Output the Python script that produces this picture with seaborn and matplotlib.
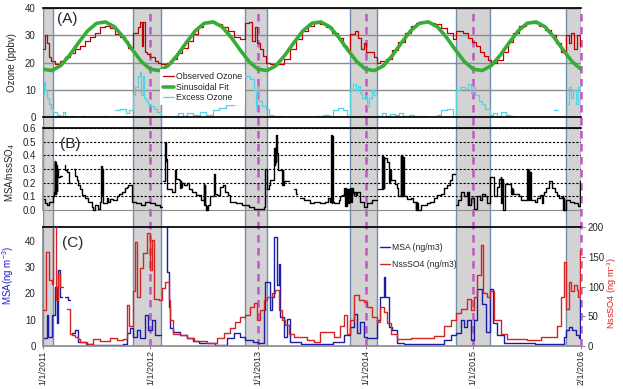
import numpy as np
import matplotlib
matplotlib.use('Agg')
import matplotlib.pyplot as plt
import seaborn as sns

nan = np.nan

# x axis: years since 1/1/2011
tick_years = [0, 1, 2, 3, 4, 5]
tick_labels = ['1/1/2011', '1/1/2012', '1/1/2013', '1/1/2014', '1/1/2015', '2/1/2016']
winter_bands = [(0.0, 0.099), (0.837, 1.103), (1.882, 2.084),
                (2.852, 3.103), (3.838, 4.154), (4.865, 5.0)]
new_years = [1, 2, 3, 4, 5]

# (A) ozone, ppbv  -- (time, value) step points
ozone_obs = [(0.000, 25), (0.017, 30), (0.040, 27), (0.059, 22), (0.077, 20.5), (0.114, 19.5),
             (0.161, 20.5), (0.207, 22), (0.254, 23.5), (0.300, 25), (0.347, 26), (0.393, 28),
             (0.440, 29.5), (0.487, 31), (0.533, 33), (0.580, 33.5), (0.626, 32.5), (0.673, 30.5),
             (0.720, 29.5), (0.766, 28), (0.794, 25.5), (0.837, 31), (0.886, 33), (0.905, 35),
             (0.924, 26), (0.933, 35), (0.952, 24), (0.970, 23), (1.000, 22), (1.045, 20.5),
             (1.073, 20), (1.103, 19.5), (1.156, 20), (1.203, 21.5), (1.249, 23.5), (1.296, 25.5),
             (1.352, 28), (1.398, 30.5), (1.445, 33), (1.491, 34.5), (1.557, 35), (1.613, 34),
             (1.668, 33), (1.724, 31.5), (1.780, 29.5), (1.835, 28.5), (1.882, 34.5), (1.919, 35),
             (1.947, 28), (1.975, 33), (1.994, 27), (2.021, 25), (2.049, 22.5), (2.077, 20),
             (2.114, 19.5), (2.189, 19.5), (2.245, 21.5), (2.300, 25), (2.356, 28.5), (2.412, 31.5),
             (2.468, 33.5), (2.524, 34.5), (2.579, 34), (2.635, 33), (2.691, 31), (2.747, 29),
             (2.793, 26), (2.830, 24.5), (2.852, 30.5), (2.905, 31.5), (2.933, 29), (2.961, 25),
             (2.989, 27), (3.007, 24), (3.045, 24), (3.082, 22), (3.103, 20), (3.138, 20.5),
             (3.193, 21.5), (3.249, 24.5), (3.305, 27.5), (3.361, 31), (3.417, 33.5), (3.472, 34.5),
             (3.528, 35), (3.584, 34.5), (3.640, 34), (3.696, 32.5), (3.752, 31), (3.808, 28.5),
             (3.838, 31.5), (3.900, 31), (3.947, 29), (3.984, 27.5), (4.021, 26), (4.058, 24),
             (4.096, 22.5), (4.133, 21), (4.161, 20), (4.217, 21), (4.273, 24), (4.319, 27.5),
             (4.365, 31), (4.421, 33.5), (4.486, 35), (4.552, 34.5), (4.607, 33.5), (4.663, 32),
             (4.719, 30), (4.766, 27), (4.812, 24), (4.865, 30), (4.887, 27), (4.905, 31),
             (4.933, 25), (4.961, 30), (4.989, 26), (5.0, 26)]

fit_months = np.arange(61) / 12
fit_ozone = [17.6, 17.1, 18.9, 22.7, 27.3, 31.6, 34.4, 34.9, 33.1, 29.3, 24.7, 20.4,
             17.6, 17.1, 18.9, 22.7, 27.3, 31.6, 34.4, 34.9, 33.1, 29.3, 24.7, 20.4,
             17.6, 17.1, 18.9, 22.7, 27.3, 31.6, 34.4, 34.9, 33.1, 29.3, 24.7, 20.4,
             17.6, 17.1, 18.9, 22.7, 27.3, 31.6, 34.4, 34.9, 33.1, 29.3, 24.7, 20.4,
             17.6, 17.1, 18.9, 22.7, 27.3, 31.6, 34.4, 34.9, 33.1, 29.3, 24.7, 20.4,
             17.6]

ozone_excess = [(0.000, 8), (0.010, 13), (0.025, 10), (0.040, 7), (0.055, 5), (0.075, 3), (0.099, 2),
                (0.13, 1), (0.16, 0.5), (0.19, 2), (0.21, 0.5), (0.25, 0.5), (0.30, 0), (0.36, 0.5),
                (0.40, nan), (0.56, 0.3), (0.62, nan), (0.67, 2.5), (0.72, 3), (0.77, 1.5), (0.80, 2.5),
                (0.837, 8), (0.86, 11), (0.89, 15), (0.905, 16.5), (0.915, 8), (0.93, 15), (0.945, 7),
                (0.96, 6), (0.98, 5), (1.00, 4), (1.03, 3), (1.06, 2), (1.10, 0.5), (1.15, 0),
                (1.20, nan), (1.22, 0.5), (1.26, 1.5), (1.30, 0.5), (1.34, 1.5), (1.40, 1), (1.46, 2),
                (1.52, 1), (1.58, 2.5), (1.64, 3.5), (1.70, 4.5), (1.78, 5), (1.84, nan), (1.882, 15),
                (1.93, 14), (1.96, 10), (1.98, 3), (1.99, 11), (2.01, 6), (2.04, 4), (2.07, 3),
                (2.10, 1), (2.14, 0.5), (2.22, nan), (2.52, 0.3), (2.60, 1), (2.66, 0.5), (2.70, 2.5),
                (2.74, 3.3), (2.79, 2.5), (2.83, 0.5), (2.852, 10), (2.88, 12), (2.91, 10), (2.93, 11.5),
                (2.95, 9), (2.97, 7), (3.00, 8), (3.01, 4), (3.03, 7), (3.06, 10), (3.08, 8),
                (3.103, 0.5), (3.15, 1.5), (3.19, 0.5), (3.23, 1.2), (3.27, 0.8), (3.31, 1.5),
                (3.35, 0.5), (3.40, 0.8), (3.45, 0.3), (3.57, nan), (3.66, 1), (3.70, 2.5), (3.76, 3),
                (3.81, 0.5), (3.838, 10), (3.88, 11), (3.92, 10.5), (3.95, 12), (3.98, 9), (4.00, 11),
                (4.02, 8), (4.05, 6), (4.08, 5), (4.11, 3), (4.154, 1), (4.18, 1.5), (4.22, 0.5),
                (4.26, 1.8), (4.30, 1), (4.34, 0.5), (4.38, nan), (4.75, 2.5), (4.79, nan), (4.865, 5),
                (4.89, 11), (4.91, 7), (4.93, 10), (4.95, 5), (4.97, 11), (4.99, 12), (5.0, 12)]

# (B) MSA / nssSO4 ratio
msa_ratio = [(0.000, 0.08), (0.020, 0.05), (0.037, 0.04), (0.060, 0.06), (0.093, 0.10), (0.105, 0.13),
             (0.110, 0.36), (0.113, 0.12), (0.117, 0.35), (0.121, 0.12), (0.125, 0.33), (0.129, 0.14),
             (0.133, 0.30), (0.140, 0.24), (0.160, 0.25), (0.177, nan), (0.208, 0.33), (0.212, 0.29),
             (0.223, 0.28), (0.240, 0.20), (0.254, nan), (0.290, 0.30), (0.301, 0.25), (0.315, 0.22),
             (0.332, 0.18), (0.350, 0.15), (0.363, 0.11), (0.395, 0.09), (0.425, 0.06), (0.456, 0.02),
             (0.470, 0.00), (0.487, 0.04), (0.510, 0.01), (0.533, 0.06), (0.545, 0.32), (0.549, 0.10),
             (0.553, 0.30), (0.557, 0.08), (0.564, 0.05), (0.595, 0.085), (0.610, 0.06), (0.626, 0.08),
             (0.650, 0.07), (0.688, 0.10), (0.710, 0.12), (0.735, 0.13), (0.766, 0.16), (0.780, 0.17),
             (0.797, 0.18), (0.828, 0.06), (0.870, 0.05), (0.910, 0.04), (0.950, 0.06), (0.998, 0.05),
             (1.040, 0.04), (1.091, 0.02), (1.107, nan), (1.115, 0.21), (1.138, 0.50), (1.142, 0.36),
             (1.146, 0.50), (1.150, 0.37), (1.153, 0.15), (1.200, 0.13), (1.231, 0.29), (1.240, 0.23),
             (1.262, 0.22), (1.275, 0.16), (1.283, 0.21), (1.288, 0.17), (1.293, 0.20), (1.310, 0.18),
             (1.340, 0.20), (1.360, 0.15), (1.386, 0.13), (1.420, 0.11), (1.448, 0.11), (1.470, 0.07),
             (1.495, 0.19), (1.500, 0.04), (1.505, 0.18), (1.510, 0.04), (1.517, 0.00), (1.522, 0.03),
             (1.526, 0.00), (1.540, 0.04), (1.557, 0.10), (1.588, 0.26), (1.603, 0.12), (1.619, 0.11),
             (1.650, 0.17), (1.672, 0.18), (1.696, 0.13), (1.720, 0.11), (1.743, 0.06), (1.800, 0.05),
             (1.850, 0.04), (1.882, 0.035), (1.920, 0.02), (1.960, 0.01), (2.000, 0.01), (2.053, 0.02),
             (2.068, 0.30), (2.084, 0.15), (2.100, 0.18), (2.115, 0.22), (2.146, 0.32), (2.150, 0.45),
             (2.155, 0.33), (2.160, 0.45), (2.165, 0.35), (2.171, 0.55), (2.176, 0.42), (2.183, 0.29),
             (2.223, 0.29), (2.227, 0.18), (2.231, 0.29), (2.235, 0.18), (2.239, 0.21), (2.290, nan),
             (2.332, 0.15), (2.350, 0.12), (2.363, nan), (2.394, 0.085), (2.430, 0.07), (2.487, 0.05),
             (2.518, 0.06), (2.580, 0.05), (2.626, 0.06), (2.650, 0.085), (2.673, 0.06), (2.682, 0.55),
             (2.687, 0.05), (2.692, 0.54), (2.697, 0.06), (2.704, 0.05), (2.750, 0.07), (2.766, 0.10),
             (2.781, 0.11), (2.800, 0.16), (2.812, 0.03), (2.817, 0.16), (2.822, 0.03), (2.828, 0.15),
             (2.840, 0.05), (2.845, 0.15), (2.852, 0.06), (2.859, 0.16), (2.865, 0.06), (2.870, 0.16),
             (2.880, 0.13), (2.890, 0.11), (2.895, 0.13), (2.910, 0.11), (2.920, 0.13), (2.952, 0.06),
             (2.983, 0.02), (3.014, 0.05), (3.060, 0.07), (3.104, nan), (3.113, 0.15), (3.153, 0.40),
             (3.158, 0.15), (3.163, 0.39), (3.168, 0.16), (3.173, 0.38), (3.200, 0.35), (3.215, 0.29),
             (3.220, 0.20), (3.225, 0.29), (3.237, 0.22), (3.277, 0.19), (3.290, 0.16), (3.299, 0.10),
             (3.324, 0.40), (3.329, 0.10), (3.334, 0.40), (3.340, 0.10), (3.345, 0.39), (3.355, 0.10),
             (3.380, 0.08), (3.417, 0.085), (3.440, 0.06), (3.464, 0.00), (3.470, 0.06), (3.475, 0.00),
             (3.480, 0.05), (3.490, 0.00), (3.510, 0.036), (3.572, 0.05), (3.600, 0.06), (3.634, 0.085),
             (3.665, 0.11), (3.696, 0.12), (3.730, 0.16), (3.758, 0.18), (3.780, 0.22), (3.804, 0.26),
             (3.829, nan), (3.840, 0.04), (3.860, 0.07), (3.882, 0.13), (3.913, 0.10), (3.944, 0.13),
             (3.950, 0.04), (3.955, 0.13), (3.960, 0.04), (3.975, 0.085), (4.006, 0.01), (4.037, 0.10),
             (4.060, 0.07), (4.084, 0.12), (4.110, 0.10), (4.130, 0.05), (4.155, 0.24), (4.192, 0.10),
             (4.223, 0.17), (4.240, 0.23), (4.254, 0.24), (4.260, 0.05), (4.266, 0.23), (4.272, 0.03),
             (4.280, 0.00), (4.294, 0.19), (4.330, 0.19), (4.347, 0.16), (4.352, 0.12), (4.357, 0.16),
             (4.362, 0.12), (4.367, 0.15), (4.372, 0.12), (4.420, 0.10), (4.440, 0.07), (4.500, 0.30),
             (4.506, 0.07), (4.512, 0.29), (4.518, 0.07), (4.524, 0.28), (4.533, 0.07), (4.570, 0.06),
             (4.595, 0.085), (4.620, 0.11), (4.642, 0.05), (4.650, 0.11), (4.657, 0.13), (4.680, 0.16),
             (4.704, 0.21), (4.735, 0.16), (4.760, 0.13), (4.781, 0.11), (4.800, 0.085), (4.828, 0.10),
             (4.834, 0.00), (4.840, 0.09), (4.846, 0.00), (4.859, 0.07), (4.900, 0.06), (4.936, 0.05),
             (4.970, 0.03), (4.995, 0.21), (5.0, 0.21)]

# (C) MSA (ng m-3, left axis) and nssSO4 (ng m-3, right axis)
msa = [(0.000, 2.9), (0.037, 11.7), (0.053, 3.5), (0.084, 11.7), (0.115, 22.4), (0.130, 8.6),
       (0.146, 28.7), (0.161, 18.6), (0.177, nan), (0.208, 18.6), (0.239, 17.4), (0.254, nan),
       (0.270, 4.8), (0.301, 6), (0.332, 1.6), (0.40, 0.8), (0.47, 0.5), (0.60, 0.4), (0.75, 0.8),
       (0.78, 5), (0.81, 7), (0.837, 3.5), (0.874, 6), (0.905, 2.9), (0.951, 11.7), (0.982, 6),
       (1.014, 9.8), (1.045, 4.2), (1.10, nan), (1.122, 46), (1.153, 28), (1.169, 14.8), (1.184, 6.7),
       (1.215, 5.4), (1.28, 4.2), (1.34, 3), (1.40, 2), (1.45, 1), (1.60, 0.4), (1.71, 2.9), (1.78, 4.8),
       (1.83, 3.5), (1.882, 2.3), (1.95, 1.5), (2.00, 1), (2.053, 13.6), (2.068, 24.3), (2.115, 13.6),
       (2.130, 18.6), (2.152, 41.3), (2.177, 23), (2.192, 31), (2.208, 11), (2.239, 3.5), (2.270, 10.4),
       (2.301, 1.6), (2.40, 0.8), (2.70, 1.6), (2.797, 4.2), (2.853, 7.3), (2.890, 12.3), (2.921, 4.8),
       (2.952, 9.2), (2.983, 3.5), (3.014, 3.1), (3.107, 9.8), (3.138, 18.6), (3.169, 26.2),
       (3.184, 18.6), (3.215, 7.3), (3.246, 6), (3.293, 1), (3.355, 0.8), (3.727, 2.3), (3.789, 4.2),
       (3.838, 4.8), (3.882, 9.8), (3.913, 7.3), (3.944, 9.8), (3.975, 2.3), (4.006, 9.8),
       (4.037, 21.8), (4.084, 16), (4.115, 5.4), (4.155, 21.8), (4.186, 8.6), (4.223, 4.2), (4.285, 1),
       (4.57, 0.8), (4.843, 3.5), (4.865, 6), (4.89, 7.3), (4.92, 6), (4.95, 4.2), (4.98, 2.9),
       (4.99, 18), (5.0, 18)]

nss_so4 = [(0.000, 60), (0.031, 159), (0.062, 111), (0.084, 105), (0.099, 210), (0.124, 77),
           (0.146, 122), (0.161, 100), (0.192, nan), (0.223, 63), (0.254, 21), (0.270, 18), (0.301, 16),
           (0.332, 11), (0.347, 7), (0.409, 4), (0.471, 12), (0.533, 8), (0.626, 14), (0.688, 10),
           (0.750, 12), (0.781, 69), (0.806, 33), (0.837, 92), (0.859, 176), (0.874, 83), (0.905, 131),
           (0.936, 156), (0.967, 190), (0.998, 128), (1.014, 179), (1.036, 80), (1.076, 77), (1.104, 97),
           (1.138, 108), (1.169, 77), (1.184, 44), (1.215, 21), (1.278, 18), (1.340, 13), (1.402, 8),
           (1.526, 5), (1.619, 13), (1.681, 22), (1.743, 30), (1.789, 40), (1.836, 49), (1.882, 52),
           (1.929, 65), (1.960, 72), (1.991, 44), (2.022, 61), (2.053, 77), (2.084, 83), (2.130, 90),
           (2.161, 94), (2.192, 61), (2.223, 44), (2.254, 35), (2.285, 21), (2.332, 16), (2.456, 10),
           (2.520, 7), (2.580, 24), (2.704, 16), (2.766, 33), (2.797, 52), (2.828, 21), (2.853, 44),
           (2.890, 86), (2.937, 77), (2.983, 75), (3.014, 66), (3.060, 49), (3.104, 41), (3.138, 66),
           (3.169, 58), (3.200, 38), (3.231, 21), (3.293, 11), (3.417, 13), (3.634, 17), (3.727, 33),
           (3.789, 44), (3.838, 55), (3.882, 63), (3.944, 80), (3.975, 61), (4.006, 83), (4.037, 120),
           (4.068, 170), (4.093, 89), (4.130, 83), (4.155, 92), (4.192, 44), (4.254, 21), (4.316, 12),
           (4.502, 10), (4.626, 16), (4.781, 33), (4.812, 83), (4.843, 142), (4.865, 63), (4.885, 108),
           (4.910, 92), (4.935, 103), (4.960, 95), (4.975, 83), (4.990, 162), (5.0, 162)]


def split(pairs):
    t, v = zip(*pairs)
    return np.array(t), np.array(v, dtype=float)


sns.set_theme(style='white')
plt.rcParams['font.family'] = ['Liberation Sans', 'DejaVu Sans']
plt.rcParams['mathtext.default'] = 'regular'
FS = 7

fig = plt.figure(figsize=(6.23, 3.89), dpi=100)
L, W = 0.0685, 0.864

# shaded winter periods and new-year markers, behind all three panels
bg = fig.add_axes([L, 0.1105, W, 0.869])
bg.set_xlim(0, 5)
bg.set_ylim(0, 1)
bg.axis('off')
for a, b in winter_bands:
    bg.axvspan(a, b, facecolor='#d3d3d3', edgecolor='#6f8fb3', lw=1)
for y in new_years:
    bg.axvline(y, color='#c455c8', lw=1.8, ls=(0, (3, 2.2)), clip_on=False)

axA = fig.add_axes([L, 0.6985, W, 0.281])
axB = fig.add_axes([L, 0.418, W, 0.253])
axC = fig.add_axes([L, 0.1105, W, 0.305])
axC2 = axC.twinx()
for ax in (axA, axB, axC, axC2):
    ax.set_facecolor('none')
    ax.set_xlim(0, 5)
    for s in ax.spines.values():
        s.set_visible(False)
    ax.tick_params(labelsize=FS, length=3, width=0.8, color='#888888', pad=2)

# ---- panel A
t, v = split(ozone_obs)
axA.step(t, v, where='post', color='#c00000', lw=0.9, label='Observed Ozone')
sns.lineplot(x=fit_months, y=fit_ozone, ax=axA, color='#36ad36', lw=2.6, label='Sinusoidal Fit')
t, v = split(ozone_excess)
axA.step(t, v, where='post', color='#55d2e2', lw=0.9, label='Excess Ozone')
axA.set_ylim(0, 40)
axA.set_yticks([0, 10, 20, 30, 40])
axA.yaxis.grid(True, color='#8c8c8c', lw=1)
axA.set_axisbelow(True)
axA.spines['top'].set_visible(True)
axA.spines['top'].set_color('black')
axA.spines['bottom'].set_visible(True)
axA.spines['bottom'].set_color('black')
axA.tick_params(axis='x', bottom=False, labelbottom=False)
axA.tick_params(axis='y', left=False)
axA.set_ylabel('Ozone (ppbv)', fontsize=FS)
axA.yaxis.set_label_coords(-0.047, 0.5)
axA.legend(loc='upper left', bbox_to_anchor=(0.218, 0.44), fontsize=6.3, frameon=True,
           facecolor='white', edgecolor='none', framealpha=1, fancybox=False,
           handlelength=1.3, handletextpad=0.2, labelspacing=0.2, borderpad=0.3,
           borderaxespad=0)
axA.text(0.026, 0.965, '(A)', transform=axA.transAxes, fontsize=11, va='top')

# ---- panel B
t, v = split(msa_ratio)
axB.step(t, v, where='post', color='black', lw=1.0)
axB.set_ylim(-0.12, 0.6)
axB.set_yticks([0.0, 0.1, 0.2, 0.3, 0.4, 0.5, 0.6])
axB.set_yticklabels(['0.0', '0.1', '0.2', '0.3', '0.4', '0.5', '0.6'])
axB.yaxis.grid(True, color='black', lw=0.8, ls=(0, (2, 1.5)))
grid_b = axB.yaxis.get_gridlines()
grid_b[0].set_linestyle('-')
grid_b[0].set_color('#8c8c8c')
axB.set_axisbelow(True)
axB.spines['top'].set_visible(True)
axB.spines['top'].set_color('black')
axB.spines['left'].set_visible(True)
axB.spines['left'].set_color('#999999')
axB.spines['left'].set_bounds(0, 0.6)
axB.tick_params(axis='x', bottom=False, labelbottom=False)
axB.tick_params(axis='y', left=False)
axB.set_ylabel('MSA/nssSO$_4$', fontsize=FS)
axB.yaxis.set_label_coords(-0.047, 0.55)
axB.text(0.032, 0.905, '(B)', transform=axB.transAxes, fontsize=11, va='top')

# ---- panel C
t, v = split(msa)
msa_line, = axC.step(t, v, where='post', color='#1c1ca8', lw=1.0, label='MSA (ng/m3)')
t, v = split(nss_so4)
so4_line, = axC2.step(t, v, where='post', color='#d42424', lw=1.0, label='NssSO4 (ng/m3)')
axC.set_ylim(0, 45)
axC.set_yticks([0, 10, 20, 30, 40])
axC2.set_ylim(0, 200)
axC2.set_yticks([0, 50, 100, 150, 200])
axC.spines['top'].set_visible(True)
axC.spines['top'].set_color('black')
axC.spines['bottom'].set_visible(True)
axC.spines['bottom'].set_color('#8c8c8c')
axC.spines['left'].set_visible(True)
axC.spines['left'].set_color('#8c8c8c')
axC.set_xticks(tick_years)
axC.set_xticklabels(tick_labels, rotation=90, fontsize=6.5)
axC.tick_params(axis='x', bottom=True, length=2, pad=1)
axC.tick_params(axis='y', left=False)
axC2.tick_params(axis='y', right=True, length=3)
axC.set_ylabel('MSA(ng m$^{-3}$)', fontsize=FS, color='#2626c8')
axC.yaxis.set_label_coords(-0.049, 0.59)
axC2.set_ylabel('NssSO4 (ng m$^{-3}$)', fontsize=6.6, color='#d42424')
axC2.yaxis.set_label_coords(1.046, 0.45)
axC.legend(handles=[msa_line, so4_line], loc='upper left', bbox_to_anchor=(0.62, 0.9),
           fontsize=6.2, frameon=False, handlelength=1.2, handletextpad=0.2,
           labelspacing=1.0, borderaxespad=0)
axC.text(0.036, 0.93, '(C)', transform=axC.transAxes, fontsize=11, va='top')

fig.savefig('out.png', dpi=100)
